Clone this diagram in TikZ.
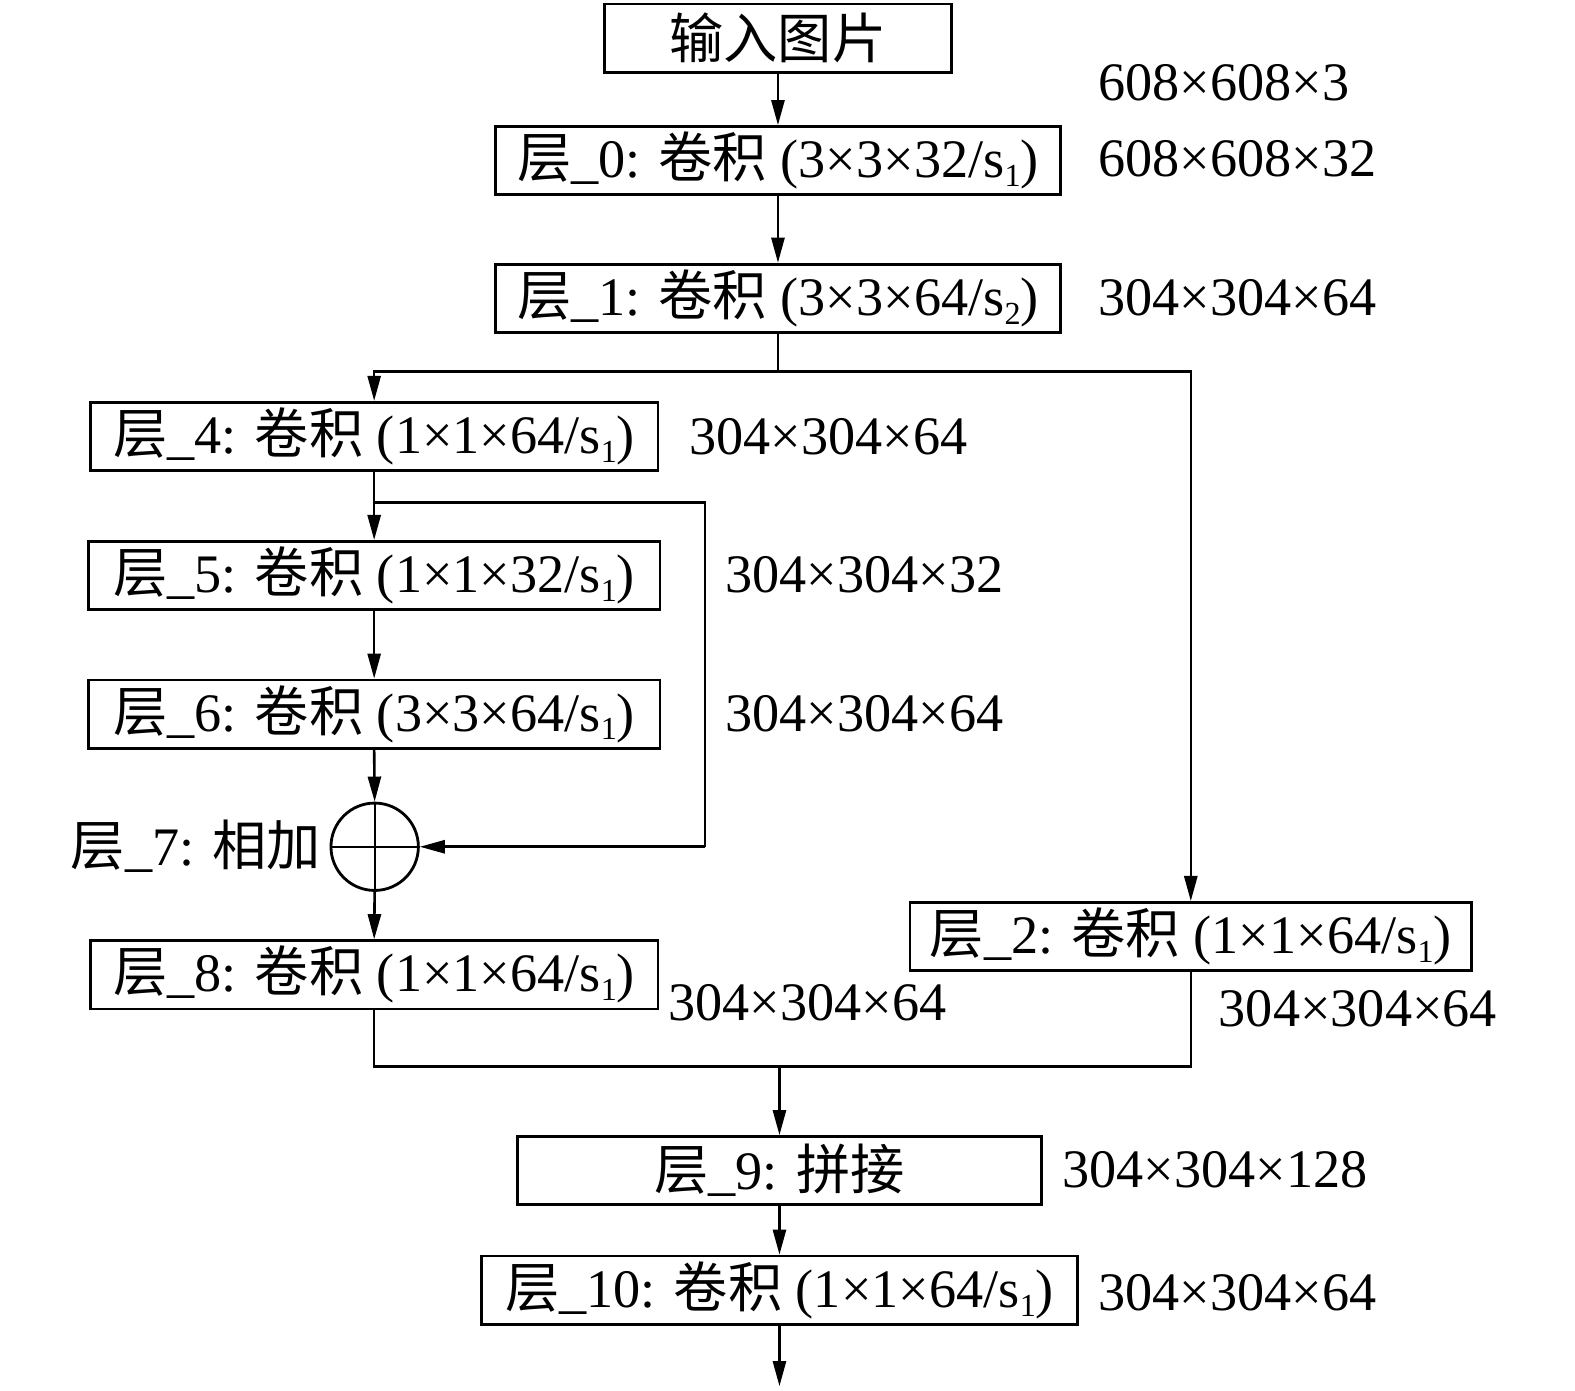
\documentclass[tikz,border=0pt]{standalone}
\usepackage{fontspec}
\setmainfont{Liberation Serif}
\newfontfamily\cjk{Noto Sans CJK SC}
\usetikzlibrary{arrows.meta}
\newcommand\myC{{\cjk 层}\_}
\newcommand\mysub[1]{\raisebox{-0.35ex}{\fontsize{16}{16}\selectfont #1}}
\begin{document}
\begin{tikzpicture}[x=0.5pt,y=-0.5pt,
  font=\fontsize{27}{30}\selectfont,
  layerbox/.style={draw, line width=1.4pt, minimum height=34pt, inner sep=0pt},
  dimlabel/.style={anchor=base west, inner sep=0pt},
  arr/.style={-{Triangle[length=12.5pt,width=6.5pt]}, line width=1.3pt},
  conn/.style={line width=1.3pt}]
\useasboundingbox (0,0) rectangle (1568,1384);
% boxes
\node[layerbox, minimum width=172.5pt] (in) at (774.5,38) {{\cjk 输入图片}};
\node[layerbox, minimum width=281.5pt] (L0) at (774.5,160) {\myC0: {\cjk 卷积} (3×3×32/s\mysub{1})};
\node[layerbox, minimum width=281.5pt] (L1) at (774.5,297) {\myC1: {\cjk 卷积} (3×3×64/s\mysub{2})};
\node[layerbox, minimum width=282.5pt] (L4) at (372.5,434.5) {\myC4: {\cjk 卷积} (1×1×64/s\mysub{1})};
\node[layerbox, minimum width=284.5pt] (L5) at (372.5,573) {\myC5: {\cjk 卷积} (1×1×32/s\mysub{1})};
\node[layerbox, minimum width=284.5pt] (L6) at (372.5,711) {\myC6: {\cjk 卷积} (3×3×64/s\mysub{1})};
\node[draw, circle, line width=1.4pt, minimum size=43.5pt, inner sep=0pt] (add) at (373,843) {};
\node[layerbox, minimum width=282.5pt] (L8) at (372.5,970.5) {\myC8: {\cjk 卷积} (1×1×64/s\mysub{1})};
\node[layerbox, minimum width=279.5pt] (L2) at (1185.5,932.5) {\myC2: {\cjk 卷积} (1×1×64/s\mysub{1})};
\node[layerbox, minimum width=260.5pt] (L9) at (776,1165.5) {\myC9: {\cjk 拼接}};
\node[layerbox, minimum width=297pt] (L10) at (776,1284.5) {\myC10: {\cjk 卷积} (1×1×64/s\mysub{1})};
% labels
\node[dimlabel] (d0) at (1093,100) {608×608×3};
\node[dimlabel] (d1) at (1093,176) {608×608×32};
\node[dimlabel] (d2) at (1093,314) {304×304×64};
\node[dimlabel] (d3) at (686,452) {304×304×64};
\node[dimlabel] (d4) at (722,590) {304×304×32};
\node[dimlabel] (d5) at (722,728) {304×304×64};
\node[dimlabel] (d6) at (665,1016) {304×304×64};
\node[dimlabel] (d7) at (1213,1022) {304×304×64};
\node[dimlabel] (d8) at (1057,1182) {304×304×128};
\node[dimlabel] (d9) at (1093,1305) {304×304×64};
\node[anchor=base east, inner sep=0pt] (addlab) at (320,862) {\myC7: {\cjk 相加}};
% plus inside circle
\draw[line width=1pt] (add.north) -- (add.south);
\draw[line width=1pt] (add.west) -- (add.east);
% coordinates
\coordinate (b1) at (774.5,370);
\coordinate (b2) at (372.5,500);
\coordinate (r1) at (702,500);
\coordinate (r2) at (702,843);
\coordinate (m) at (776,1062);
\coordinate (out) at (776,1380);
% connectors
\draw[arr] (in.south) -- (L0.north);
\draw[arr] (L0.south) -- (L1.north);
\draw[conn] (L1.south) -- (b1);
\draw[arr] (b1) -| (L4.north);
\draw[arr] (b1) -| (L2.north);
\draw[arr] (L4.south) -- (L5.north);
\draw[conn] (b2) -- (r1) -- (r2);
\draw[arr] (r2) -- (add.east);
\draw[arr] (L5.south) -- (L6.north);
\draw[arr] (L6.south) -- (add.north);
\draw[arr] (add.south) -- (L8.north);
\draw[conn] (L8.south) |- (m);
\draw[conn] (L2.south) |- (m);
\draw[arr] (m) -- (L9.north);
\draw[arr] (L9.south) -- (L10.north);
\draw[arr] (L10.south) -- (out);
\end{tikzpicture}
\end{document}
